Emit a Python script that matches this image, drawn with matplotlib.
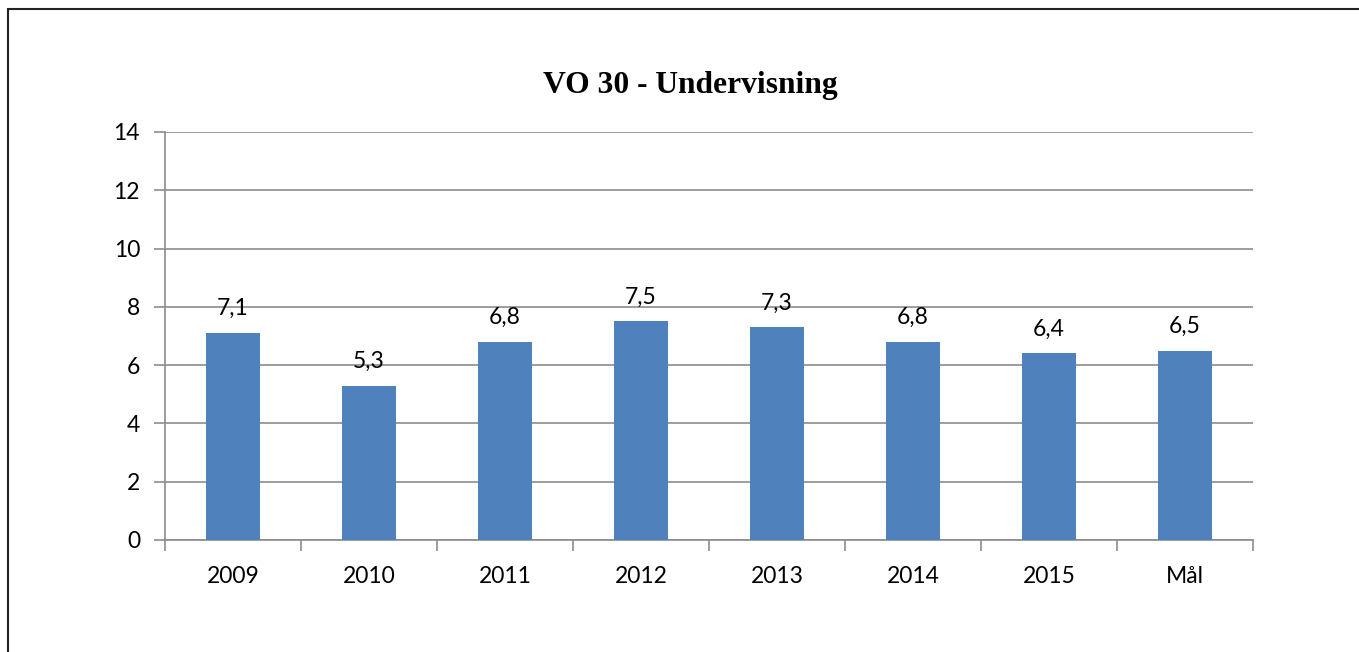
import matplotlib.pyplot as plt
from matplotlib.patches import Rectangle
import numpy as np

# Data
categories = ["2009", "2010", "2011", "2012", "2013", "2014", "2015", "Mål"]
values = [7.1, 5.3, 6.8, 7.5, 7.3, 6.8, 6.4, 6.5]
labels = ["7,1", "5,3", "6,8", "7,5", "7,3", "6,8", "6,4", "6,5"]

plt.rcParams['font.family'] = ['Lato', 'DejaVu Sans']

fig = plt.figure(figsize=(13.59, 6.52), dpi=100)
ax = fig.add_axes([165 / 1359, 1 - 540 / 652, (1253 - 165) / 1359, (540 - 132) / 652])

# outer chart border
fig.patches.append(Rectangle((8 / 1359, -0.05), 1.1, 1 - 9 / 652 + 0.05, transform=fig.transFigure,
                             fill=False, edgecolor="#222222", linewidth=1.5))

x = np.arange(len(categories))
ax.bar(x, values, width=0.4, color="#4f81bd", zorder=3)

for xi, v, lab in zip(x, values, labels):
    ax.annotate(lab, (xi, v), xytext=(0, 10), textcoords="offset points",
                ha="center", va="bottom", fontsize=16.5)

ax.set_xlim(-0.5, len(categories) - 0.5)
ax.set_ylim(0, 14)
ax.set_yticks(range(0, 15, 2))
ax.yaxis.grid(True, color="#8c8c8c", linewidth=1.2, zorder=0)
ax.set_xticks(x)
ax.set_xticklabels(categories)
ax.set_xticks(np.arange(-0.5, len(categories), 1), minor=True)
ax.tick_params(axis="x", which="major", length=0, labelsize=16.5, pad=19)
ax.tick_params(axis="x", which="minor", length=8, color="#8c8c8c", width=1.2)
ax.tick_params(axis="y", length=8, color="#8c8c8c", width=1.2, labelsize=16.5, pad=10)

for s in ["top", "right"]:
    ax.spines[s].set_visible(False)
for s in ["left", "bottom"]:
    ax.spines[s].set_color("#8c8c8c")
    ax.spines[s].set_linewidth(1.2)

fig.text(690 / 1359, 1 - 86 / 652, "VO 30 - Undervisning", ha="center", va="center",
         fontsize=22.7, fontweight="bold", family=["Liberation Serif", "DejaVu Serif"])

fig.savefig("out.png", dpi=100)
